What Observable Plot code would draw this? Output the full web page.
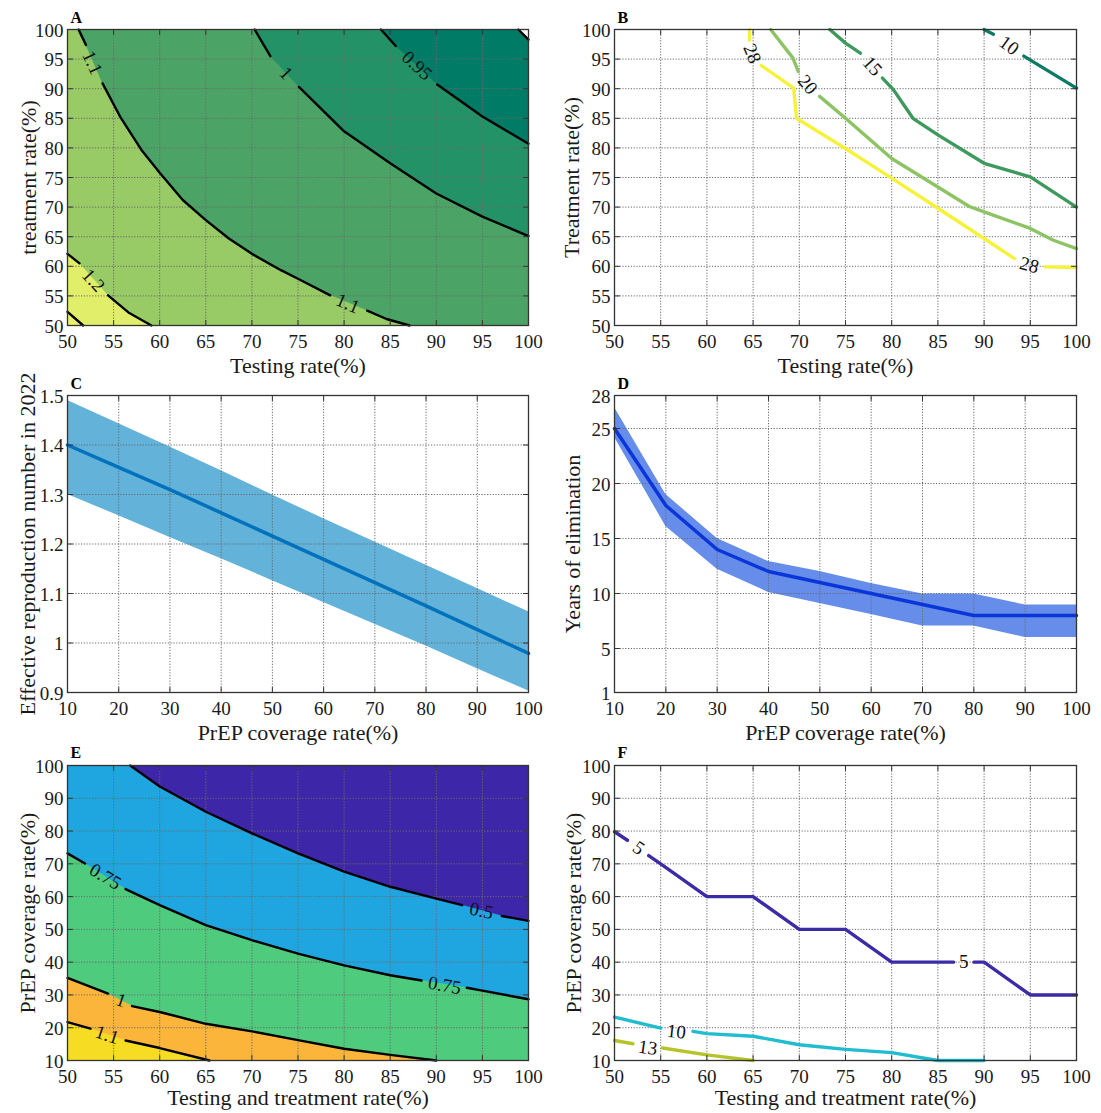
<!DOCTYPE html>
<html><head><meta charset="utf-8">
<script src="https://cdn.jsdelivr.net/npm/d3@7"></script>
<script src="https://cdn.jsdelivr.net/npm/@observablehq/plot@0.6"></script>
<style>
body{margin:0;background:#fff;}
#fig{position:relative;width:1101px;height:1113px;overflow:hidden;background:#fff;}
#fig svg{position:absolute;overflow:visible;background:transparent;font-family:"Liberation Serif","Times New Roman",Times,serif;}
#fig svg text{font-family:"Liberation Serif","Times New Roman",Times,serif !important;}
</style></head><body><div id="fig"></div>
<script>
// ---------------- DATA ----------------
// shared ticks
const rateTicks = [50,55,60,65,70,75,80,85,90,95,100];
const prepTicks = [10,20,30,40,50,60,70,80,90,100];
const cYTicks = [0.9,1,1.1,1.2,1.3,1.4,1.5];
const dYTicks = [1,5,10,15,20,25,28];
const eYTicks = [10,20,30,40,50,60,70,80,90,100];

// Panel A: contour lines [testing, treatment]; null = label gap
const aC13 = [[50,52.3],[51.7,50]];
const aC12 = [[50,62.1],[51.3,60.5],null,[54.4,55.1],[56.7,52.1],[59.1,50]];
const aC11 = [[51.2,100],[52,97.4],null,[53.8,90.9],[55.7,85.3],[58,79.7],[60,75.8],[62.5,71.2],[65,67.8],[67.5,64.7],[70,62.1],[73.2,59.3],[75,57.9],[78.5,55.1],null,[82.5,52.5],[84.6,51.1],[87.1,50]];
const aC10 = [[70.3,100],[72,95.5],null,[75.1,90.3],[80,82.8],[85,77.4],[90,72.3],[95,68.4],[100,65.1]];
const aC095 = [[84,100],[85.6,97.2],null,[90.1,90.7],[95,85.3],[100,80.7]];
const aC09 = [[98.9,100],[100,98.3]];
const aLabels = [
  {t:"1.1", x:52.7, y:94.4, r:65},
  {t:"1", x:73.7, y:92.6, r:47},
  {t:"0.95", x:87.9, y:93.9, r:43},
  {t:"1.1", x:80.4, y:53.7, r:23},
  {t:"1.2", x:52.8, y:57.6, r:48}
];

// Panel B: elimination-year contour lines
const bC28 = [[64.6,100],[64.6,98.2],null,[65.9,93.9],[69.4,90.1],[69.7,85],[75,79.9],[80,74.9],[85,69.8],[90,64.7],[93.3,61.3],null,[96.6,59.9],[100,59.8]];
const bC20 = [[66.9,100],[69.3,95.2],[69.9,92.9],null,[72.2,88.7],[75,85],[80,78.2],[85,73.4],[88.4,70.1],[90,69.2],[95,66.4],[97.5,64.4],[100,63]];
const bC15 = [[73.3,100],[75,97.7],[76.6,96],null,[79,91.8],[80.2,89.8],[82.3,85],[85,82.2],[90,77.4],[95,75.1],[100,70]];
const bC10 = [[90,100],[91,99.2],null,[94.3,95.5],[100,90.1]];
const bLabels = [
  {t:"28", x:64.9, y:95.9, r:68},
  {t:"20", x:70.9, y:90.7, r:50},
  {t:"15", x:77.9, y:93.8, r:48},
  {t:"10", x:92.7, y:97.3, r:36},
  {t:"28", x:94.9, y:60.2, r:15}
];

// Panel C: Re in 2022 vs PrEP coverage
const cMean = [1.40,1.355,1.31,1.263,1.216,1.169,1.122,1.075,1.027,0.979];
const cLow  = [1.30,1.257,1.213,1.17,1.126,1.082,1.038,0.994,0.948,0.903];
const cHigh = [1.49,1.443,1.396,1.348,1.299,1.251,1.204,1.157,1.11,1.063];

// Panel D: years of elimination vs PrEP coverage
const dMean = [25,18,14,12,11,10,9,8,8,8];
const dLow  = [24.2,16.1,12.2,10.1,9.1,8.1,7.05,7.05,6,6];
const dHigh = [26.9,19,15,12.9,12,10.9,9.95,9.95,8.95,8.95];

// Panel E: contour lines [testing&treatment, PrEP]
const eC05 = [[56.8,100],[60,93.6],[65,85.9],[70,79.3],[75,73.2],[80,67.6],[85,63],[90,59.4],[92.8,57.4],null,[97.1,54.1],[100,52.6]];
const eC075 = [[50,73.2],[51.9,70.1],null,[56.3,62.3],[60,57.4],[65,51.3],[70,46.7],[75,42.6],[80,39],[85,36],[88.4,34.4],null,[93.3,32.2],[95,31.3],[100,28.7]];
const eC1 = [[50,35.2],[54.4,30.4],null,[57,26.6],[60,24.8],[65,21.2],[70,18.9],[75,16.2],[80,13.6],[85,11.7],[90,10]];
const eC11 = [[50,21.7],[52.5,19.7],null,[56.3,16.1],[60,13.8],[65.4,10]];
const eLabels = [
  {t:"0.5", x:94.9, y:55.7, r:12},
  {t:"0.75", x:54.1, y:66.1, r:31},
  {t:"0.75", x:90.9, y:32.9, r:10},
  {t:"1", x:55.8, y:28.3, r:20},
  {t:"1.1", x:54.3, y:17.8, r:18}
];

// Panel F: elimination-year contour lines
const fC5 = [[50,79.8],[51.4,77.2],null,[53.7,72.5],[55,70],[60,60],[65,60],[70,50],[75,50],[80,40],[86.7,40],null,[88.9,40],[90,40],[95,30],[100,30]];
const fC10 = [[50,23.25],[55,19.9],null,[58.5,18.9],[60,18.2],[65,17.4],[70,14.8],[75,13.4],[80,12.4],[85,10],[90,10]];
const fC13 = [[50,16.1],[52,15.1],null,[55.2,13.8],[60,11.7],[65,10]];
const fLabels = [
  {t:"5", x:52.6, y:74.8, r:35},
  {t:"5", x:87.8, y:40, r:0},
  {t:"10", x:56.7, y:18.8, r:6},
  {t:"13", x:53.6, y:13.9, r:8}
];

// ---------------- DRAWING ----------------
const FONT = '"Liberation Serif","Times New Roman",Times,serif';
const INK = "#1a1a1a";
const gridOpts = {stroke: "#6a6a6a", strokeOpacity: 1, strokeWidth: 1, strokeDasharray: "1.2,1.6"};
const tickShape = {draw(ctx, l) { ctx.moveTo(0, 0); ctx.lineTo(0, -l); }};
const X = d => d ? d[0] : NaN, Y = d => d ? d[1] : NaN;

function fillBelow(pts, xDomain, yDomain, color) {
  let p = pts.filter(d => d);
  if (p[0][0] > xDomain[0]) p = [[xDomain[0], yDomain[1]], ...p];
  return Plot.areaY(p, {x: X, y1: yDomain[0], y2: Y, fill: color});
}
function contour(pts, color, width) {
  return Plot.line(pts, {x: X, y: Y, stroke: color, strokeWidth: width, strokeLinejoin: "round"});
}
function labels(arr) {
  return Plot.text(arr, {x: "x", y: "y", text: "t", rotate: "r", fontSize: 19, fontFamily: FONT, fill: "#111", textAnchor: "middle", lineAnchor: "middle"});
}

const fig = document.getElementById("fig");
function panel(cfg) {
  const {letter, left, top, w, h, xDomain, yDomain, xTicks, yTicks, xLabel, yLabel, yLabelDx, xLabelDy, letterDy, under = [], over = [], bg} = cfg;
  const mL = 80, mT = 30, mR = 30, mB = 60;
  const txt = {fontFamily: FONT, fill: INK};
  const tk = {length: 5, anchor: "start", shape: tickShape, stroke: "#333", strokeWidth: 1};
  const svg = Plot.plot({
    width: w + mL + mR, height: h + mT + mB,
    marginLeft: mL, marginRight: mR, marginTop: mT, marginBottom: mB,
    x: {domain: xDomain}, y: {domain: yDomain},
    style: {fontFamily: FONT, fontSize: "19px", background: "transparent", overflow: "visible", color: INK},
    marks: [
      bg ? Plot.frame({fill: bg, stroke: null}) : null,
      ...under,
      Plot.gridX(xTicks, gridOpts),
      Plot.gridY(yTicks, gridOpts),
      ...over,
      Plot.vector(xTicks, {x: d => d, y: yDomain[0], rotate: 0, ...tk}),
      Plot.vector(xTicks, {x: d => d, y: yDomain[1], rotate: 180, ...tk}),
      Plot.vector(yTicks, {x: xDomain[0], y: d => d, rotate: 90, ...tk}),
      Plot.vector(yTicks, {x: xDomain[1], y: d => d, rotate: 270, ...tk}),
      Plot.frame({stroke: "#333", strokeWidth: 1.3}),
      Plot.axisX(xTicks, {anchor: "bottom", tickSize: 0, tickPadding: 9, label: null, fontSize: 19, tickFormat: d => String(d), ...txt}),
      Plot.axisY(yTicks, {anchor: "left", tickSize: 0, tickPadding: 4, label: null, fontSize: 19, dy: 1, tickFormat: d => String(d), ...txt}),
      Plot.text([xLabel], {text: d => d, frameAnchor: "bottom", dy: xLabelDy, textAnchor: "middle", lineAnchor: "bottom", fontSize: 22, ...txt}),
      Plot.text([yLabel], {text: d => d, frameAnchor: "left", dx: yLabelDx, rotate: -90, textAnchor: "middle", lineAnchor: "middle", fontSize: 22, ...txt}),
      Plot.text([letter], {text: d => d, frameAnchor: "top-left", dx: 3, dy: letterDy, textAnchor: "start", lineAnchor: "bottom", fontWeight: "bold", fontSize: 16, fontFamily: FONT, fill: "#000"})
    ]
  });
  svg.style.left = (left - mL) + "px";
  svg.style.top = (top - mT) + "px";
  fig.appendChild(svg);
}

const rD = [50, 100], pD = [10, 100];

// A
panel({letter: "A", left: 67, top: 29, w: 461, h: 296, xDomain: rD, yDomain: rD, xTicks: rateTicks, yTicks: rateTicks,
  xLabel: "Testing rate(%)", yLabel: "treatment rate(%)", yLabelDx: -39, xLabelDy: 47, letterDy: -7,
  under: [
    fillBelow(aC09, rD, rD, "#007b66"),
    fillBelow(aC095, rD, rD, "#239267"),
    fillBelow(aC10, rD, rD, "#4ba466"),
    fillBelow(aC11, rD, rD, "#98ca66"),
    fillBelow(aC12, rD, rD, "#e1ee69"),
    fillBelow(aC13, rD, rD, "#eaf267")
  ],
  over: [aC13, aC12, aC11, aC10, aC095, aC09].map(c => contour(c, "#000", 2.4)).concat([labels(aLabels)])
});

// B
panel({letter: "B", left: 614, top: 29, w: 462, h: 296, xDomain: rD, yDomain: rD, xTicks: rateTicks, yTicks: rateTicks,
  xLabel: "Testing rate(%)", yLabel: "Treatment rate(%)", yLabelDx: -43, xLabelDy: 47, letterDy: -7,
  over: [
    contour(bC28, "#f6f23a", 3.4),
    contour(bC20, "#8dc463", 3.4),
    contour(bC15, "#3d9a5c", 3.4),
    contour(bC10, "#0b7b66", 3.4),
    labels(bLabels)
  ]
});

// C
panel({letter: "C", left: 67, top: 395, w: 461, h: 297, xDomain: pD, yDomain: [0.9, 1.5], xTicks: prepTicks, yTicks: cYTicks,
  xLabel: "PrEP coverage rate(%)", yLabel: "Effective reproduction number in 2022", yLabelDx: -40, xLabelDy: 47, letterDy: -7,
  under: [
    Plot.areaY(prepTicks, {x: d => d, y1: (d, i) => cLow[i], y2: (d, i) => cHigh[i], fill: "#63b2d9"})
  ],
  over: [
    Plot.line(prepTicks, {x: d => d, y: (d, i) => cMean[i], stroke: "#0072bd", strokeWidth: 3.5})
  ]
});

// D
panel({letter: "D", left: 614, top: 395, w: 462, h: 297, xDomain: pD, yDomain: [1, 28], xTicks: prepTicks, yTicks: dYTicks,
  xLabel: "PrEP coverage rate(%)", yLabel: "Years of elimination", yLabelDx: -42, xLabelDy: 47, letterDy: -7,
  under: [
    Plot.areaY(prepTicks, {x: d => d, y1: (d, i) => dLow[i], y2: (d, i) => dHigh[i], fill: "#658de9"})
  ],
  over: [
    Plot.line(prepTicks, {x: d => d, y: (d, i) => dMean[i], stroke: "#0a36d9", strokeWidth: 3.5})
  ]
});

// E
panel({letter: "E", left: 67, top: 765, w: 461, h: 295, xDomain: rD, yDomain: pD, xTicks: rateTicks, yTicks: eYTicks,
  xLabel: "Testing and treatment rate(%)", yLabel: "PrEP coverage rate(%)", yLabelDx: -40, xLabelDy: 44, letterDy: -8,
  bg: "#3e26a8",
  under: [
    fillBelow(eC05, rD, pD, "#1fa6e0"),
    fillBelow(eC075, rD, pD, "#4fcb7d"),
    fillBelow(eC1, rD, pD, "#fbb53b"),
    fillBelow(eC11, rD, pD, "#f6dc22")
  ],
  over: [eC05, eC075, eC1, eC11].map(c => contour(c, "#000", 2.4)).concat([labels(eLabels)])
});

// F
panel({letter: "F", left: 614, top: 765, w: 462, h: 295, xDomain: rD, yDomain: pD, xTicks: rateTicks, yTicks: eYTicks,
  xLabel: "Testing and treatment rate(%)", yLabel: "PrEP coverage rate(%)", yLabelDx: -41, xLabelDy: 44, letterDy: -8,
  over: [
    contour(fC5, "#3b2ba6", 3.4),
    contour(fC10, "#20bccf", 3.4),
    contour(fC13, "#b6c42b", 3.4),
    labels(fLabels)
  ]
});
</script></body></html>
